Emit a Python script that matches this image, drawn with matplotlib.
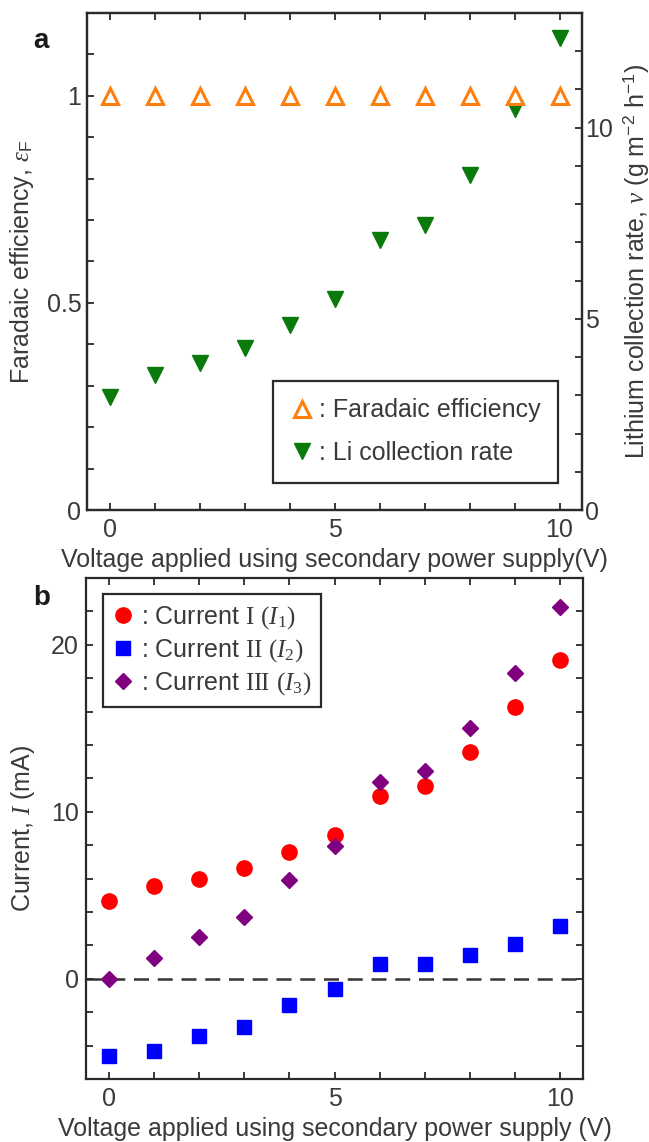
import matplotlib
matplotlib.use("Agg")
import matplotlib.pyplot as plt
from matplotlib.ticker import MultipleLocator, FixedLocator
from matplotlib.lines import Line2D

# ---------------- data ----------------
voltage = [0, 1, 2, 3, 4, 5, 6, 7, 8, 9, 10]
faradaic_eff = [1.0, 1.0, 1.0, 1.0, 1.0, 1.0, 1.0, 1.0, 1.0, 1.0, 1.0]
li_rate = [2.95, 3.53, 3.85, 4.25, 4.84, 5.53, 7.05, 7.46, 8.76, 10.5, 12.35]

current_1 = [4.67, 5.57, 5.99, 6.65, 7.60, 8.62, 10.96, 11.56, 13.6, 16.29, 19.1]
current_2 = [-4.6, -4.3, -3.41, -2.87, -1.56, -0.6, 0.86, 0.86, 1.44, 2.1, 3.15]
current_3 = [0.0, 1.26, 2.5, 3.7, 5.93, 7.96, 11.8, 12.45, 15.03, 18.32, 22.28]

x_ticks = [0, 5, 10]
a_left_ticks = [0, 0.5, 1]
a_left_labels = ["0", "0.5", "1"]
a_right_ticks = [0, 5, 10]
b_ticks = [0, 10, 20]

xlabel_a = "Voltage applied using secondary power supply(V)"
xlabel_b = "Voltage applied using secondary power supply (V)"

# ---------------- style ----------------
plt.rcParams['font.family'] = ['Liberation Sans', 'DejaVu Sans']
plt.rcParams['mathtext.fontset'] = 'custom'
plt.rcParams['mathtext.rm'] = 'Liberation Serif'
plt.rcParams['mathtext.it'] = 'Liberation Serif:italic'
plt.rcParams['mathtext.sf'] = 'Liberation Sans'
plt.rcParams['mathtext.bf'] = 'Liberation Sans:bold'

TXT = '#3a3a3a'
SP = '#2a2a2a'
FS = 18

ORANGE = '#ff7f0e'
GREEN = '#0a7a0a'
RED = '#ff0000'
BLUE = '#0000ff'
PURPLE = '#800080'

W, H = 649, 1142
fig = plt.figure(figsize=(W / 100, H / 100), dpi=100)

def style_axes(ax):
    for s in ax.spines.values():
        s.set_linewidth(1.6)
        s.set_color(SP)
    ax.tick_params(which='both', direction='in', length=5, width=1.3,
                   color=SP, labelcolor=TXT, labelsize=FS, pad=5)

# ---------------- panel a ----------------
ax_a = fig.add_axes([87 / W, 1 - 510 / H, 495 / W, 497 / H])
ax_r = ax_a.twinx()
style_axes(ax_a)
style_axes(ax_r)

ax_a.plot(voltage, faradaic_eff, linestyle='none', marker='^', ms=11,
          mfc='white', mec=ORANGE, mew=2.2, zorder=3)
ax_r.plot(voltage, li_rate, linestyle='none', marker='v', ms=11,
          mfc=GREEN, mec=GREEN, zorder=3)
ax_a.set_zorder(ax_r.get_zorder() + 1)
ax_a.patch.set_visible(False)

ax_a.set_xlim(-0.5, 10.5)
ax_a.set_ylim(0, 1.2)
ax_r.set_ylim(0, 13)
ax_a.set_xticks(x_ticks)
ax_a.xaxis.set_minor_locator(MultipleLocator(1))
ax_a.set_yticks(a_left_ticks)
ax_a.set_yticklabels(a_left_labels)
ax_a.yaxis.set_minor_locator(MultipleLocator(0.1))
ax_r.set_yticks(a_right_ticks)
ax_r.yaxis.set_minor_locator(MultipleLocator(1))
ax_a.tick_params(which='both', top=True, pad=4)
ax_a.tick_params(axis='x', which='both', pad=6)
ax_r.tick_params(which='both', pad=2)

ax_a.set_xlabel(xlabel_a, fontsize=FS, color=TXT, labelpad=4)
ax_a.set_ylabel(r"Faradaic efficiency, $\varepsilon_{\mathsf{F}}$",
                fontsize=FS, color=TXT, labelpad=8)
ax_r.set_ylabel(r"Lithium collection rate, $\nu$ (g m$^{\mathsf{-2}}$ h$^{\mathsf{-1}}$)",
                fontsize=FS, color=TXT, labelpad=6)

h1 = Line2D([], [], linestyle='none', marker='^', ms=11, mfc='white',
            mec=ORANGE, mew=2.2)
h2 = Line2D([], [], linestyle='none', marker='v', ms=11, mfc=GREEN, mec=GREEN)
leg_a = ax_a.legend([h1, h2], [": Faradaic efficiency", ": Li collection rate"],
                    loc='upper left', bbox_to_anchor=(0.376, 0.26),
                    fontsize=FS, frameon=True, fancybox=False,
                    edgecolor=SP, framealpha=1, handlelength=0.9,
                    handletextpad=0.25, labelspacing=0.75, borderpad=0.7,
                    borderaxespad=0)
leg_a.get_frame().set_linewidth(1.6)
for t in leg_a.get_texts():
    t.set_color(TXT)

fig.text(33 / W, 1 - 41 / H, "a", fontsize=20, fontweight='bold',
         color='#1a1a1a', va='center', ha='left')

# ---------------- panel b ----------------
ax_b = fig.add_axes([86 / W, 1 - 1079 / H, 497 / W, 501 / H])
style_axes(ax_b)
ax_b.axhline(0, color='#333333', lw=1.8, dashes=(6, 3.5), zorder=1)
ax_b.plot(voltage, current_1, linestyle='none', marker='o', ms=11,
          mfc=RED, mec=RED, zorder=3, label=r": Current $\mathrm{I}$ $(I_1)$")
ax_b.plot(voltage, current_2, linestyle='none', marker='s', ms=10,
          mfc=BLUE, mec=BLUE, zorder=3, label=r": Current $\mathrm{II}$ $(I_2)$")
ax_b.plot(voltage, current_3, linestyle='none', marker='D', ms=8.5,
          mfc=PURPLE, mec=PURPLE, zorder=4, label=r": Current $\mathrm{III}$ $(I_3)$")

ax_b.set_xlim(-0.5, 10.5)
ax_b.set_ylim(-6, 24)
ax_b.set_xticks(x_ticks)
ax_b.xaxis.set_minor_locator(MultipleLocator(1))
ax_b.set_yticks(b_ticks)
ax_b.yaxis.set_minor_locator(MultipleLocator(2))
ax_b.tick_params(which='both', top=True, right=True)
ax_b.tick_params(axis='x', which='both', pad=6)
ax_b.set_xlabel(xlabel_b, fontsize=FS, color=TXT, labelpad=4)
ax_b.set_ylabel(r"Current, $I$ (mA)", fontsize=FS, color=TXT, labelpad=10)

leg_b = ax_b.legend(loc='upper left', bbox_to_anchor=(0.035, 0.968),
                    fontsize=FS, frameon=True, fancybox=False,
                    edgecolor=SP, framealpha=1, handlelength=0.8,
                    handletextpad=0.3, labelspacing=0.25, borderpad=0.4,
                    borderaxespad=0)
leg_b.get_frame().set_linewidth(1.6)
for t in leg_b.get_texts():
    t.set_color(TXT)

fig.text(33 / W, 1 - 598 / H, "b", fontsize=20, fontweight='bold',
         color='#1a1a1a', va='center', ha='left')

fig.savefig("out.png", dpi=100)
